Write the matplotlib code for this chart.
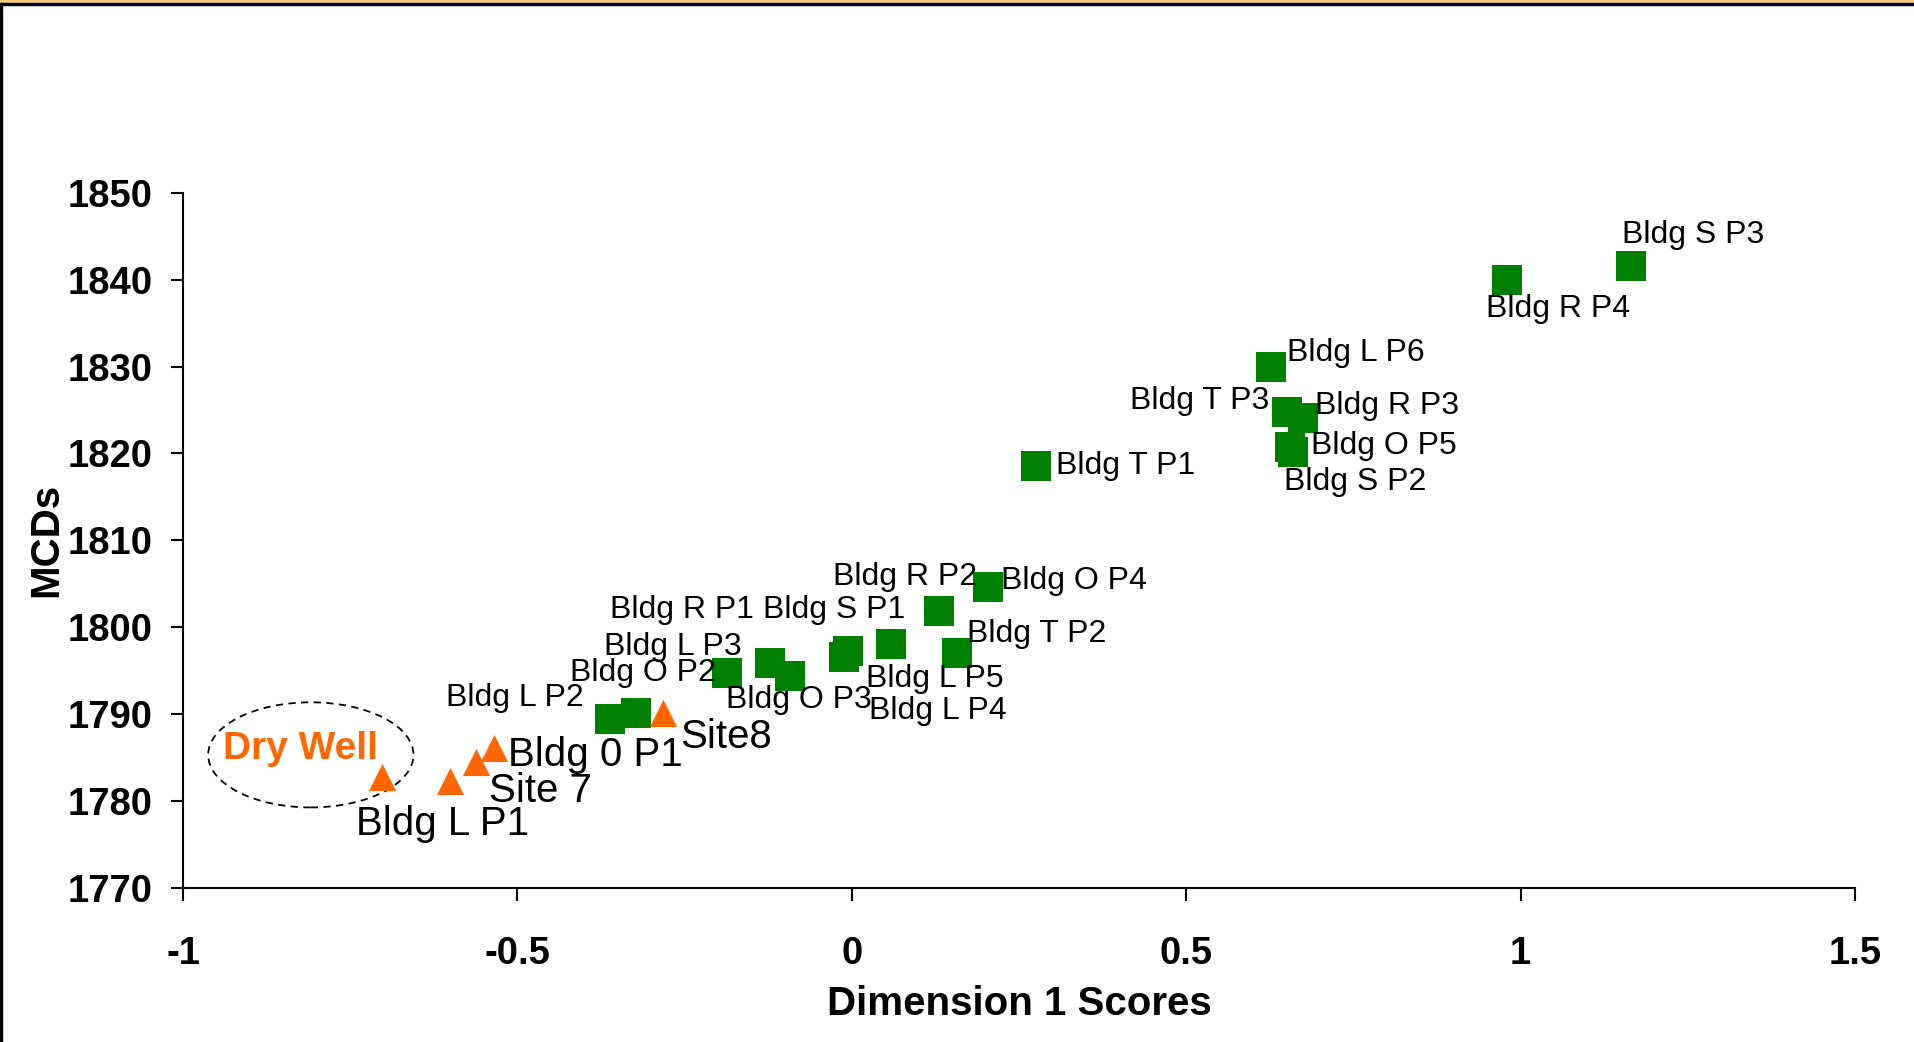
import matplotlib.pyplot as plt
from matplotlib.patches import Ellipse, Rectangle

plt.rcParams['font.family'] = ['Liberation Sans', 'DejaVu Sans']

# building samples (green squares)
bldg_x = [1.165, 0.979, 0.626, 0.650, 0.674, 0.655, 0.659, 0.276, 0.203, 0.130,
          0.157, 0.058, -0.012, -0.006, -0.093, -0.122, -0.186, -0.362, -0.323]
bldg_y = [1841.6, 1840.0, 1830.0, 1824.8, 1824.1, 1820.7, 1820.2, 1818.6, 1804.6, 1801.9,
          1797.0, 1798.1, 1796.6, 1797.2, 1794.4, 1795.9, 1794.7, 1789.4, 1790.1]

# sites / dry well (orange triangles)
site_x = [-0.703, -0.601, -0.562, -0.535, -0.283]
site_y = [1782.8, 1782.3, 1784.5, 1786.1, 1790.1]

# point labels and where they sit (data coords)
small_labels = ['Bldg S P3', 'Bldg R P4', 'Bldg L P6', 'Bldg T P3', 'Bldg R P3', 'Bldg O P5',
                'Bldg S P2', 'Bldg T P1', 'Bldg R P2', 'Bldg O P4', 'Bldg R P1', 'Bldg S P1',
                'Bldg T P2', 'Bldg L P3', 'Bldg O P2', 'Bldg O P3', 'Bldg L P5', 'Bldg L P4',
                'Bldg L P2']
small_pos = [(1.258, 1845.1), (1.056, 1836.6), (0.754, 1831.6), (0.520, 1826.0), (0.800, 1825.5),
             (0.796, 1820.9), (0.752, 1816.7), (0.409, 1818.6), (0.079, 1805.8), (0.332, 1805.3),
             (-0.254, 1802.0), (-0.027, 1802.0), (0.276, 1799.2), (-0.267, 1797.7), (-0.312, 1794.7),
             (-0.079, 1791.6), (0.124, 1794.0), (0.128, 1790.4), (-0.504, 1791.8)]
big_labels = ['Bldg 0 P1', 'Site 7', 'Bldg L P1', 'Site8']
big_pos = [(-0.383, 1785.3), (-0.466, 1781.1), (-0.612, 1777.3), (-0.188, 1787.3)]

xticks = [-1, -0.5, 0, 0.5, 1, 1.5]
xtick_labels = ['-1', '-0.5', '0', '0.5', '1', '1.5']
yticks = [1770, 1780, 1790, 1800, 1810, 1820, 1830, 1840, 1850]

green = '#008000'
orange = '#FF6600'

fig = plt.figure(figsize=(19.15, 10.42), dpi=100)
ax = fig.add_axes([0.0956, 0.148, 0.8731, 0.667])

ax.scatter(bldg_x, bldg_y, marker='s', s=470, color=green, linewidths=0, zorder=3)
ax.scatter(site_x, site_y, marker='^', s=380, color=orange, linewidths=0, zorder=3)

for t, (x, y) in zip(small_labels, small_pos):
    ax.text(x, y, t, fontsize=23, ha='center', va='center', zorder=4)
for t, (x, y) in zip(big_labels, big_pos):
    ax.text(x, y, t, fontsize=29, ha='center', va='center', zorder=4)

# dry well group
ax.add_patch(Ellipse((-0.809, 1785.3), 0.307, 12.1, fill=False, ls=(0, (4, 3)),
                     lw=1.3, ec='black', zorder=2))
ax.text(-0.824, 1786.0, 'Dry Well', fontsize=28, fontweight='bold', color=orange,
        ha='center', va='center', zorder=4)

ax.set_xlim(-1, 1.5)
ax.set_ylim(1770, 1850)
ax.set_xticks(xticks)
ax.set_xticklabels(xtick_labels)
ax.set_yticks(yticks)
for s in ['top', 'right']:
    ax.spines[s].set_visible(False)
for s in ['left', 'bottom']:
    ax.spines[s].set_linewidth(1.5)
ax.tick_params(axis='both', length=9, width=1.5, labelsize=27.5)
ax.tick_params(axis='x', pad=26)
ax.tick_params(axis='y', pad=13)
for lab in ax.get_xticklabels() + ax.get_yticklabels():
    lab.set_fontweight('bold')

ax.set_xlabel('Dimension 1 Scores', fontsize=29, fontweight='bold', va='center')
ax.xaxis.set_label_coords(0.5, -0.167)
ax.set_ylabel('MCDs', fontsize=29, fontweight='bold', va='center')
ax.yaxis.set_label_coords(-0.082, 0.5)

# frame: orange strip on top, black edge lines
fig.patches.append(Rectangle((0, 1 - 3 / 1042), 1, 3 / 1042, transform=fig.transFigure,
                             color='#F8C978', zorder=0))
fig.patches.append(Rectangle((0, 1 - 5 / 1042), 1, 2 / 1042, transform=fig.transFigure,
                             color='black', zorder=0))
fig.patches.append(Rectangle((0, 0), 2 / 1915, 1 - 3 / 1042, transform=fig.transFigure,
                             color='black', zorder=0))

fig.savefig('out.png', dpi=100)
